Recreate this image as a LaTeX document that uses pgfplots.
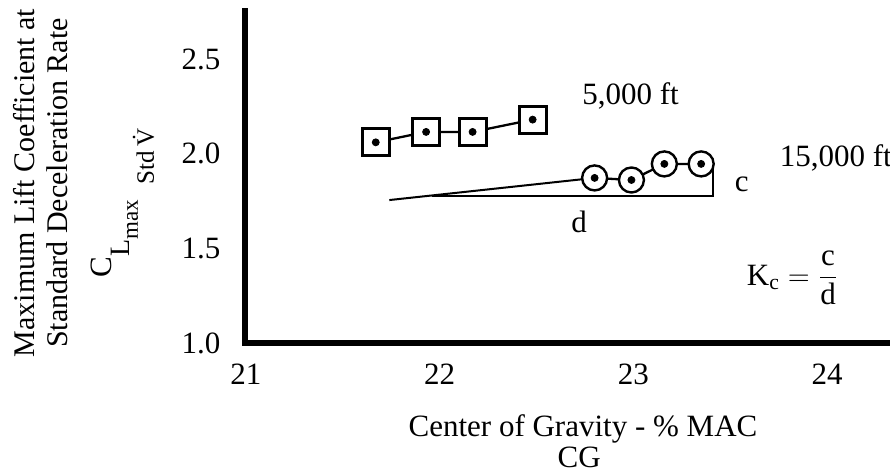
\documentclass[border=0pt]{standalone}
\usepackage{pgfplots}
\pgfplotsset{compat=1.18}
\usepackage{fontspec}
\setmainfont{Liberation Serif}
\setmathrm{Liberation Serif}
\begin{document}
\begin{tikzpicture}[font=\fontsize{15.5}{17}\selectfont]
\begin{axis}[
  scale only axis, width=322.5pt, height=166pt,
  xmin=20.995, xmax=24.325, ymin=1.0, ymax=2.754,
  axis lines=left,
  axis line style={-, line width=3pt, line cap=rect},
  xtick={21,22,23,24}, ytick={1.0,1.5,2.0,2.5},
  major tick length=0pt, tick style={draw=none},
  /pgf/number format/assume math mode=true,
  xticklabel style={yshift=-6.8pt},
  yticklabel style={xshift=-8.8pt, /pgf/number format/fixed, /pgf/number format/fixed zerofill, /pgf/number format/precision=1},
  clip=false,
]
% reference lines (d and c)
\addplot[black, line width=1pt] coordinates {(21.74,1.755) (22.80,1.872)};
\addplot[black, line width=1.1pt] coordinates {(21.96,1.777) (23.41,1.777) (23.41,1.945)};
% 5,000 ft
\addplot[black, line width=1.15pt, mark=square*, mark size=6.75pt,
  mark options={fill=white, draw=black, line width=1.5pt}]
  coordinates {(21.67,2.06) (21.93,2.115) (22.17,2.115) (22.48,2.18)};
\addplot[black, only marks, mark=*, mark size=1.75pt]
  coordinates {(21.67,2.06) (21.93,2.115) (22.17,2.115) (22.48,2.18)};
% 15,000 ft
\addplot[black, line width=1.15pt, mark=*, mark size=6.25pt,
  mark options={fill=white, draw=black, line width=1.2pt}]
  coordinates {(22.80,1.872) (22.99,1.861) (23.16,1.946) (23.35,1.946)};
\addplot[black, only marks, mark=*, mark size=1.75pt]
  coordinates {(22.80,1.872) (22.99,1.861) (23.16,1.946) (23.35,1.946)};
% annotations
\node[anchor=base west] at (axis cs:22.70,2.26) {5,000 ft};
\node[anchor=base west] at (axis cs:23.72,1.93) {15,000 ft};
\node[anchor=base] at (axis cs:22.72,1.586) {d};
\node[anchor=base] at (axis cs:23.56,1.80) {c};
\node[anchor=base west] at (axis cs:23.55,1.306) {$\mathrm{K}_{\mathrm{c}} = \displaystyle\frac{\mathrm{c}}{\mathrm{d}}$};
% axis labels
\node[anchor=base] at (axis cs:22.74,1-94/189.3) {Center of Gravity - \% MAC};
\node[anchor=base] at (axis cs:22.72,1-125/189.3) {CG};
\node[rotate=90, align=center, font=\fontsize{15}{16.5}\selectfont] at (axis cs:19.94,1.845)
  {Maximum Lift Coefficient at\\Standard Deceleration Rate};
\node[rotate=90, anchor=base west, inner sep=0pt] at (axis cs:20.308,1.343)
  {{\fontsize{15.5}{16}\selectfont C}\raisebox{-9pt}{\fontsize{14}{15}\selectfont L\raisebox{-4pt}{\fontsize{11.5}{12}\selectfont max\hspace{8pt}\raisebox{-8pt}{\fontsize{12.5}{13}\selectfont Std\,\.{V}}}}};
\coordinate (TL) at (axis cs:19.730,2.812);
\coordinate (BR) at (axis cs:24.325,0.3185);
\end{axis}
\pgfresetboundingbox
\useasboundingbox (TL) rectangle (BR);
\end{tikzpicture}
\end{document}
